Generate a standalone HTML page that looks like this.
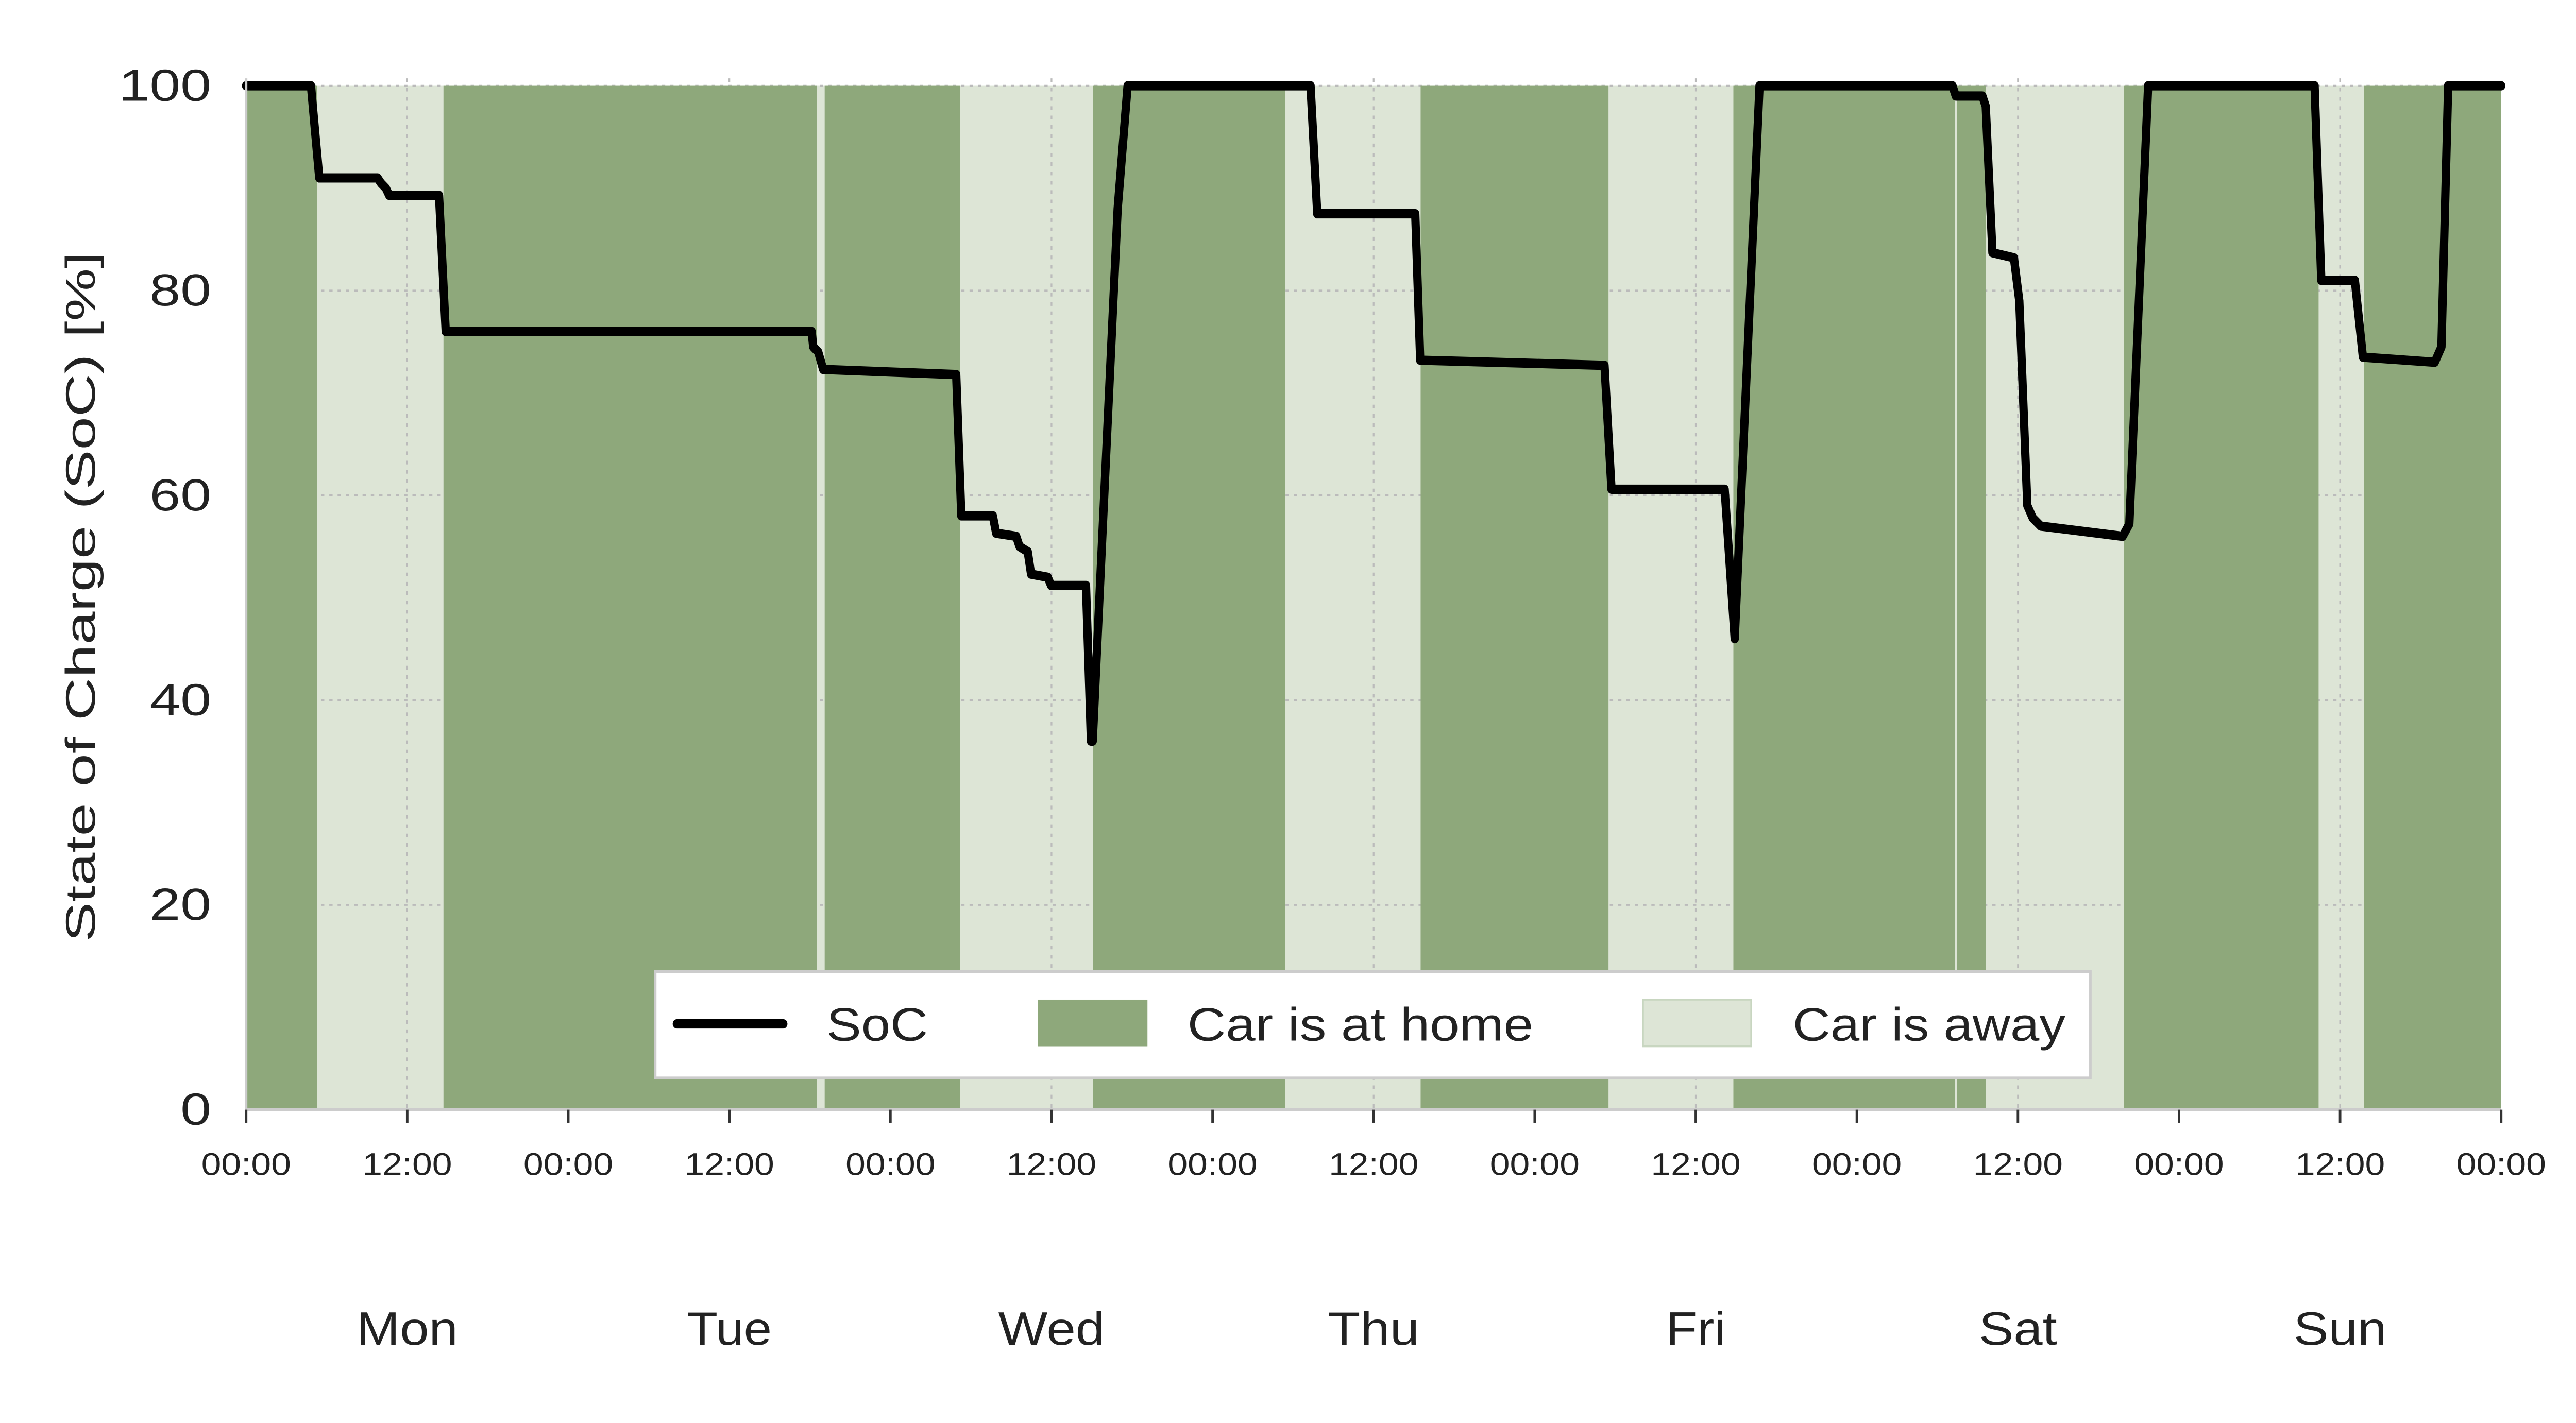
<!DOCTYPE html>
<html><head><meta charset="utf-8"><style>
html,body{margin:0;padding:0;background:#fff;width:100%;height:100%;overflow:hidden}
svg{display:block;position:fixed;left:0;top:0;width:100vw;height:100vh;font-family:"Liberation Sans",Arial,sans-serif}
</style></head><body>
<svg id="chart" viewBox="0 0 1549 763" preserveAspectRatio="none" xmlns="http://www.w3.org/2000/svg">
<g id="bands-away"></g>
<g id="grid"></g>
<g id="bands-home"></g>
<path id="soc" fill="none" stroke="#000" stroke-width="5" stroke-linejoin="round" stroke-linecap="round"/>
<line x1="148" y1="42" x2="148" y2="595" stroke="#ccc" stroke-width="1.5"/>
<line x1="148" y1="595" x2="1504" y2="595" stroke="#ccc" stroke-width="1.5"/>
<g id="yticks"></g>
<g id="xticks"></g>
<text transform="translate(57,320) rotate(-90)" text-anchor="middle" font-size="25" fill="#222" textLength="370" lengthAdjust="spacingAndGlyphs">State of Charge (SoC) [%]</text>
<g>
<rect x="394" y="521" width="863" height="57" fill="#fff" stroke="#ccc" stroke-width="1.5"/>
<line x1="407" y1="549" x2="471" y2="549" stroke="#000" stroke-width="5" stroke-linecap="round"/>
<text x="497" y="558" font-size="25" fill="#222" textLength="61" lengthAdjust="spacingAndGlyphs">SoC</text>
<rect x="624" y="536" width="66" height="25" fill="#8ea87b"/>
<text x="714" y="558" font-size="25" fill="#222" textLength="208" lengthAdjust="spacingAndGlyphs">Car is at home</text>
<rect x="988" y="536" width="65" height="25" fill="#dde5d6" stroke="#c8d6c0" stroke-width="1"/>
<text x="1078" y="558" font-size="25" fill="#222" textLength="164" lengthAdjust="spacingAndGlyphs">Car is away</text>
</g>
</svg>
<script>
const bandStarts=[0,5.3,14.7,42.5,43.1,53.2,63.1,77.4,87.5,101.5,110.8,127.3,127.45,129.6,139.9,154.4,157.8];
const bandEnds=[5.3,14.7,42.5,43.1,53.2,63.1,77.4,87.5,101.5,110.8,127.3,127.45,129.6,139.9,154.4,157.8,168];
const bandHome=[1,0,1,0,1,0,1,0,1,0,1,0,1,0,1,0,1];
const socHours=[0,4.83,5.45,9.79,10.04,10.41,10.66,14.37,14.87,42.13,42.25,42.62,42.99,52.9,53.28,55.63,55.88,57.37,57.62,58.23,58.48,59.72,59.97,62.57,62.94,63.07,64.93,65.67,79.3,79.8,87.1,87.47,101.2,101.72,110.15,110.9,112.75,127.12,127.37,129.35,129.6,130.1,131.7,132.1,132.7,133.1,133.7,139.8,140.3,141.7,154.1,154.6,157.1,157.7,163.05,163.55,164.05,168];
const socValues=[100,100,91,91,90.5,90,89.3,89.3,76,76,74.5,74,72.3,71.8,58,58,56.3,56,55,54.5,52.3,52,51.2,51.2,36,36,88,100,100,87.5,87.5,73.2,72.7,60.6,60.6,46,100,100,99,99,98,83.7,83.2,79,59,57.8,57,56,57.2,100,100,81,81,73.5,73,74.5,100,100];
const yTicks=[0,20,40,60,80,100];
const xTickHours=[0,12,24,36,48,60,72,84,96,108,120,132,144,156,168];
const xTickLabels=["00:00","12:00","00:00","12:00","00:00","12:00","00:00","12:00","00:00","12:00","00:00","12:00","00:00","12:00","00:00"];
const dayLabels=["Mon","Tue","Wed","Thu","Fri","Sat","Sun"];
const dayLabelWidths=[61,51,64,55,36,47,56];

const NS="http://www.w3.org/2000/svg";
const X=h=>148+(h/168)*1356;
const Y=v=>595-(v/100)*549;
function mk(tag,attrs,parent){const e=document.createElementNS(NS,tag);for(const k in attrs)e.setAttribute(k,attrs[k]);parent.appendChild(e);return e;}
const gA=document.getElementById('bands-away'),gH=document.getElementById('bands-home'),gG=document.getElementById('grid');
bandStarts.forEach((s,i)=>{
  const home=bandHome[i];
  const r=mk('rect',{x:X(s),y:Y(100),width:X(bandEnds[i])-X(s),height:Y(0)-Y(100),fill:home?'#8ea87b':'#dde5d6'},home?gH:gA);
  
  
});
yTicks.forEach(v=>{
  if(v>0){const l=mk('line',{x1:148,x2:1504,y1:Y(v),y2:Y(v),stroke:'#bbb','stroke-width':1,'stroke-dasharray':'2,3'},gG);
  
  }
  const s=String(v);
  const t=mk('text',{x:127,y:Y(v)+8,'text-anchor':'end','font-size':24,fill:'#222',textLength:s.length*18.5,lengthAdjust:'spacingAndGlyphs'},document.getElementById('yticks'));
  t.textContent=s;
  
  
});
const gX=document.getElementById('xticks');
xTickHours.forEach((h,i)=>{
  if(h%24===12){const l=mk('line',{x1:X(h),x2:X(h),y1:Y(100)-4,y2:Y(0),stroke:'#bbb','stroke-width':1,'stroke-dasharray':'2,3'},gG);
  
  }
  const tk=mk('line',{x1:X(h),x2:X(h),y1:595,y2:602,stroke:'#333','stroke-width':1.5},gX);
  
  
  const t=mk('text',{x:X(h),y:630,'text-anchor':'middle','font-size':17,fill:'#222',textLength:54,lengthAdjust:'spacingAndGlyphs'},gX);
  t.textContent=xTickLabels[i];
  
  
});
dayLabels.forEach((d,i)=>{
  const t=mk('text',{x:X(i*24+12),y:721,'text-anchor':'middle','font-size':25,fill:'#222',textLength:dayLabelWidths[i],lengthAdjust:'spacingAndGlyphs'},gX);
  t.textContent=d;
  
  
});
document.getElementById('soc').setAttribute('d',socHours.map((h,i)=>(i?'L':'M')+X(h).toFixed(2)+' '+Y(socValues[i]).toFixed(2)).join(' '));
</script>
</body></html>
